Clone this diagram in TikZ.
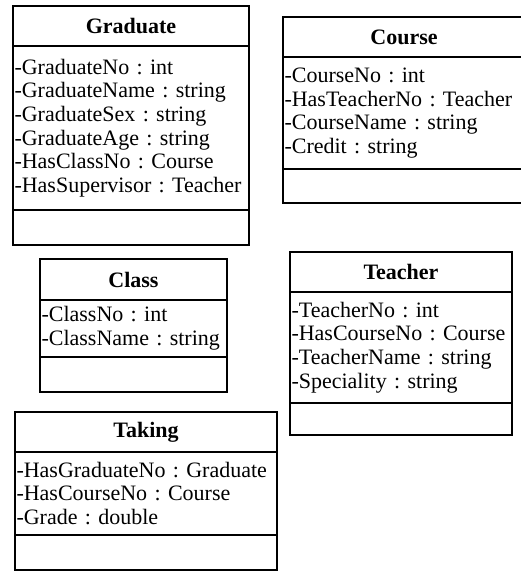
\documentclass[tikz,border=0pt]{standalone}
\usepackage{fontspec}
\setmainfont{Liberation Serif}
\usetikzlibrary{positioning}
\frenchspacing

\begin{document}
\begin{tikzpicture}[line width=1.6pt, outer sep=0pt,
        font=\fontsize{22pt}{23.7pt}\selectfont\frenchspacing,
        title/.style = {draw, anchor=north west, inner sep=0pt, minimum height=40pt, font=\fontsize{22pt}{23.7pt}\selectfont\bfseries},
        attrs/.style = {draw, align=left, inner xsep=1.5pt, inner ysep=0pt},
        ops/.style = {draw, inner sep=0pt}]
        \useasboundingbox (0pt,0pt) rectangle (521pt,-572pt);
        % Graduate
        \node[title, minimum width=236pt] (grad) at (13pt,-6pt) {Graduate};
        \node[attrs, text width=233pt, minimum height=164pt, below=0pt of grad] (gradattr) {-GraduateNo : int\\-GraduateName : string\\-GraduateSex : string\\-GraduateAge : string\\-HasClassNo : Course\\-HasSupervisor : Teacher};
        \node[ops, minimum width=236pt, minimum height=35pt, below=0pt of gradattr] (gradops) {};
        % Course
        \node[title, minimum width=242pt] (course) at (283pt,-17pt) {Course};
        \node[attrs, text width=239pt, minimum height=112pt, below=0pt of course] (courseattr) {-CourseNo : int\\-HasTeacherNo : Teacher\\-CourseName : string\\-Credit : string};
        \node[ops, minimum width=242pt, minimum height=34pt, below=0pt of courseattr] (courseops) {};
        % Class
        \node[title, minimum width=187pt, minimum height=41pt] (class) at (40pt,-259pt) {Class};
        \node[attrs, text width=184pt, minimum height=57pt, below=0pt of class] (classattr) {-ClassNo : int\\-ClassName : string};
        \node[ops, minimum width=187pt, minimum height=35pt, below=0pt of classattr] (classops) {};
        % Teacher
        \node[title, minimum width=222pt] (teacher) at (290pt,-252pt) {Teacher};
        \node[attrs, text width=219pt, minimum height=111pt, below=0pt of teacher] (teacherattr) {-TeacherNo : int\\-HasCourseNo : Course\\-TeacherName : string\\-Speciality : string};
        \node[ops, minimum width=222pt, minimum height=32pt, below=0pt of teacherattr] (teacherops) {};
        % Taking
        \node[title, minimum width=262pt] (taking) at (15pt,-412pt) {Taking};
        \node[attrs, text width=259pt, minimum height=83pt, below=0pt of taking] (takingattr) {-HasGraduateNo : Graduate\\-HasCourseNo : Course\\-Grade : double};
        \node[ops, minimum width=262pt, minimum height=35pt, below=0pt of takingattr] (takingops) {};
    \end{tikzpicture}
\end{document}
